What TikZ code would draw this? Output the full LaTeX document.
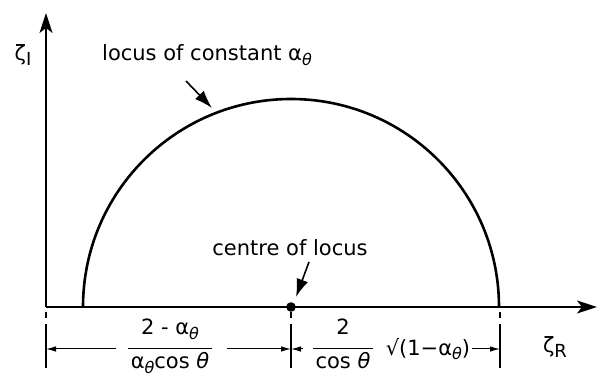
\documentclass[tikz,border=0pt]{standalone}
\usepackage{fontspec}
\setmainfont{DejaVu Sans}
\usetikzlibrary{arrows.meta,positioning,calc}
\newcommand\lowsub[1]{\raisebox{-0.4ex}{\fontsize{16}{18}\selectfont #1}}

\begin{document}
\begin{tikzpicture}[x=1pt,y=1pt,
  lbl/.style={font=\fontsize{21}{23}\selectfont,inner sep=0pt},
  dimline/.style={line width=1pt},
  dimarrow/.style={dimline,-{Latex[length=10pt,width=5.5pt]}},
  tickline/.style={line width=1.1pt,dash pattern=on 6pt off 6pt on 60pt},
  axisarrow/.style={line width=1.5pt,-{Stealth[length=20pt,width=13pt,inset=5pt]}},
  ptrarrow/.style={line width=1.6pt,-{Latex[length=18pt,width=12pt]}}]
\useasboundingbox (0,0) rectangle (598,377);
% axes
\coordinate (O) at (46,70);
\coordinate (C) at (291,70);
\coordinate (xtip) at (597,70);
\coordinate (ytip) at (46,364);
\draw[axisarrow] (O)--(xtip);
\draw[axisarrow] (O)--(ytip);
\node[lbl] (zetaI) at (23,322) {ζ{\fontsize{18}{20}\selectfont\raisebox{-0.5ex}{I}}};
\node[lbl] (zetaR) at (555,30) {ζ{\fontsize{18}{20}\selectfont\raisebox{-0.5ex}{R}}};
% locus
\draw[line width=2.6pt] (C) ++(208,0) arc[start angle=0,end angle=180,radius=208];
\fill (C) circle (4.8);
\node[lbl] (locusLbl) at (207,322) {locus of constant α\lowsub{\textit{θ}}};
\coordinate (locusTail) at (186,296);
\coordinate (locusTip) at (212,269);
\draw[ptrarrow] (locusTail)--(locusTip);
\node[lbl] (centreLbl) at (290,129) {centre of locus};
\coordinate (centreTail) at (309,115);
\coordinate (centreTip) at (296,80);
\draw[ptrarrow] (centreTail)--(centreTip);
% dimensions
\foreach \x in {46,291,500}{
\draw[tickline] (\x,65)--(\x,9);
}
\coordinate (dL) at (46,28);
\coordinate (dC) at (291,28);
\coordinate (dR) at (500,28);
\node[lbl,anchor=base] (numL) at (170,42) {2 - α\lowsub{\textit{θ}}};
\node[lbl,anchor=base] (denL) at (170,8) {α\lowsub{\textit{θ}}cos \textit{θ}};
\draw[dimline] ($(denL.west|-dL)+(-3,0)$)--($(denL.east|-dL)+(3,0)$);
\draw[dimarrow] ($(denL.west|-dL)+(-15,0)$)--(dL);
\draw[dimarrow] ($(denL.east|-dL)+(18,0)$)--(dC);
\node[lbl,anchor=base] (numR) at (343,42) {2};
\node[lbl,anchor=base] (denR) at (343,8) {cos \textit{θ}};
\draw[dimline] ($(denR.west|-dC)+(-2,0)$)--($(denR.east|-dC)+(2,0)$);
\draw[dimarrow] ($(denR.west|-dC)+(-12,0)$)--(dC);
\node[lbl] (sqrtR) at (428,28) {√(1−α\lowsub{\textit{θ}})};
\draw[dimarrow] ($(sqrtR.east)+(2,0)$)--(dR);
\end{tikzpicture}
\end{document}
